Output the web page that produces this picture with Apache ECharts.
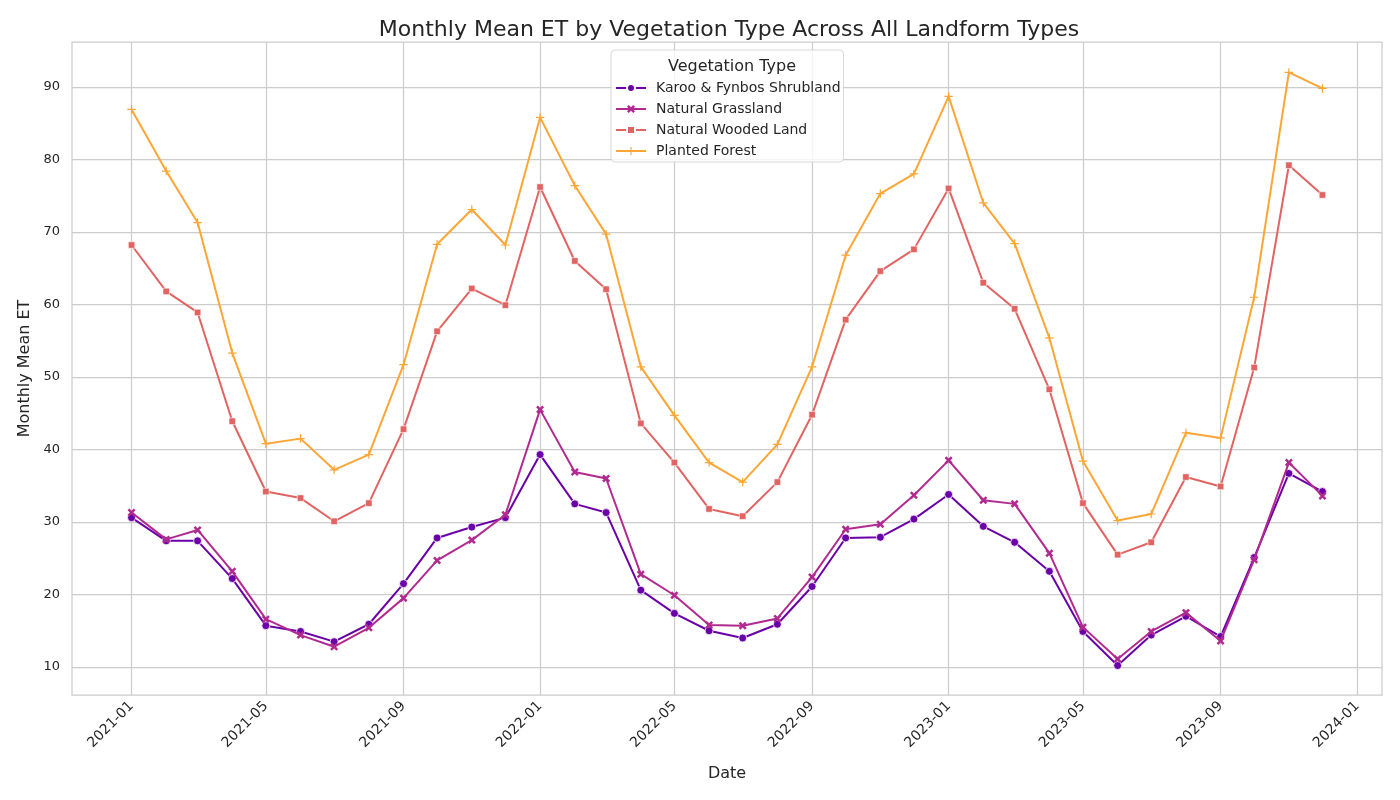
<!DOCTYPE html>
<html>
<head>
<meta charset="utf-8">
<script src="https://cdn.jsdelivr.net/npm/echarts@6/dist/echarts.min.js"></script>
<style>
  html, body { margin: 0; padding: 0; background: #fff; }
  #chart { width: 1400px; height: 800px; }
</style>
</head>
<body>
<div id="chart"></div>
<script>
const months = [
  '2021-01', '2021-02', '2021-03', '2021-04', '2021-05', '2021-06',
  '2021-07', '2021-08', '2021-09', '2021-10', '2021-11', '2021-12',
  '2022-01', '2022-02', '2022-03', '2022-04', '2022-05', '2022-06',
  '2022-07', '2022-08', '2022-09', '2022-10', '2022-11', '2022-12',
  '2023-01', '2023-02', '2023-03', '2023-04', '2023-05', '2023-06',
  '2023-07', '2023-08', '2023-09', '2023-10', '2023-11', '2023-12'
];

const karooFynbos = [
  30.6, 27.4, 27.4, 22.2, 15.7, 14.9, 13.5, 15.9, 21.5, 27.8, 29.3, 30.6,
  39.3, 32.5, 31.3, 20.6, 17.4, 15.0, 14.0, 15.9, 21.1, 27.8, 27.9, 30.4,
  33.8, 29.4, 27.2, 23.2, 14.9, 10.2, 14.4, 17.0, 14.2, 25.1, 36.7, 34.2
];
const naturalGrassland = [
  31.3, 27.6, 28.9, 23.2, 16.6, 14.4, 12.8, 15.4, 19.5, 24.7, 27.5, 31.0,
  45.5, 36.9, 36.0, 22.8, 19.9, 15.8, 15.7, 16.7, 22.4, 29.0, 29.7, 33.7,
  38.5, 33.0, 32.5, 25.7, 15.5, 11.1, 14.9, 17.5, 13.6, 24.8, 38.2, 33.6
];
const naturalWooded = [
  68.2, 61.8, 58.9, 43.9, 34.2, 33.3, 30.1, 32.6, 42.8, 56.3, 62.2, 59.9,
  76.2, 66.0, 62.1, 43.6, 38.2, 31.8, 30.8, 35.5, 44.8, 57.9, 64.6, 67.6,
  76.0, 63.0, 59.4, 48.3, 32.6, 25.5, 27.2, 36.2, 34.9, 51.3, 79.2, 75.1
];
const plantedForest = [
  86.9, 78.4, 71.3, 53.3, 40.8, 41.5, 37.2, 39.3, 51.7, 68.3, 73.1, 68.2,
  85.8, 76.4, 69.7, 51.4, 44.7, 38.2, 35.5, 40.7, 51.4, 66.8, 75.3, 78.0,
  88.7, 74.0, 68.4, 55.4, 38.4, 30.2, 31.1, 42.3, 41.6, 61.0, 92.0, 89.8
];

const xTickLabels = ['2021-01', '2021-05', '2021-09', '2022-01', '2022-05', '2022-09',
  '2023-01', '2023-05', '2023-09', '2024-01'];
const yTickLabels = [10, 20, 30, 40, 50, 60, 70, 80, 90];

const seriesNames = ['Karoo & Fynbos Shrubland', 'Natural Grassland', 'Natural Wooded Land', 'Planted Forest'];
const seriesValues = [karooFynbos, naturalGrassland, naturalWooded, plantedForest];
const colors = ['#6a00a8', '#b12a90', '#e16462', '#fca636'];

const FONT = 'DejaVu Sans';
const TEXT = '#262626';
const GRID = '#cccccc';

function toTime(s) {
  const [y, m] = s.split('-').map(Number);
  return Date.UTC(y, m - 1, 1);
}

function fmtMonth(v) {
  const d = new Date(v);
  return d.getUTCFullYear() + '-' + String(d.getUTCMonth() + 1).padStart(2, '0');
}

const times = months.map(toTime);
const xTicks = xTickLabels.map(toTime);
// matplotlib-style 5% margin on each side of the data
const pad = (times[times.length - 1] - times[0]) * 0.05;

const X_PATH = 'path://M0,2.2L2.2,0L5,2.8L7.8,0L10,2.2L7.2,5L10,7.8L7.8,10L5,7.2L2.2,10L0,7.8L2.8,5Z';
const PLUS_PATH = 'path://M4.3,0h1.4v4.3h4.3v1.4h-4.3v4.3h-1.4v-4.3h-4.3v-1.4h4.3z';

const symbols = [
  { symbol: 'circle', symbolSize: 8, borderColor: '#fff', borderWidth: 0.8 },
  { symbol: X_PATH, symbolSize: 8, borderWidth: 0 },
  { symbol: 'rect', symbolSize: 6.5, borderColor: '#fff', borderWidth: 0.6 },
  { symbol: PLUS_PATH, symbolSize: 8.5, borderWidth: 0 }
];

const series = seriesNames.map((name, i) => ({
  name: name,
  type: 'line',
  data: times.map((t, j) => [t, seriesValues[i][j]]),
  symbol: symbols[i].symbol,
  symbolSize: symbols[i].symbolSize,
  showSymbol: true,
  lineStyle: { color: colors[i], width: 2 },
  itemStyle: {
    color: colors[i],
    borderColor: symbols[i].borderColor || colors[i],
    borderWidth: symbols[i].borderWidth
  },
  emphasis: { disabled: true },
  z: 2 + i
}));

const option = {
  backgroundColor: '#ffffff',
  animation: false,
  color: colors,
  textStyle: { fontFamily: FONT },
  title: [
    {
      text: 'Monthly Mean ET by Vegetation Type Across All Landform Types',
      left: 724,
      top: 14,
      textAlign: 'center',
      textStyle: { fontFamily: FONT, fontSize: 22, fontWeight: 'normal', color: TEXT }
    },
    {
      text: 'Vegetation Type',
      left: 727,
      top: 54,
      textAlign: 'center',
      textStyle: { fontFamily: FONT, fontSize: 16, fontWeight: 'normal', color: TEXT },
      z: 12
    }
  ],
  legend: {
    data: seriesNames,
    orient: 'vertical',
    left: 611,
    top: 50,
    padding: [31, 3, 4, 4],
    itemWidth: 30,
    itemHeight: 10,
    itemGap: 7,
    backgroundColor: 'rgba(255,255,255,0.8)',
    borderColor: '#d9d9d9',
    borderWidth: 1,
    borderRadius: 4,
    textStyle: { fontFamily: FONT, fontSize: 14, color: TEXT, padding: [0, 0, 0, 5] },
    z: 10
  },
  grid: {
    left: 72,
    right: 18,
    top: 42,
    bottom: 105,
    show: true,
    borderColor: GRID,
    borderWidth: 1.25,
    containLabel: false
  },
  xAxis: {
    type: 'value',
    min: times[0] - pad,
    max: times[times.length - 1] + pad,
    name: 'Date',
    nameLocation: 'middle',
    nameGap: 71,
    nameTextStyle: { fontFamily: FONT, fontSize: 16, color: TEXT },
    axisLine: { show: false },
    axisTick: { show: false, customValues: xTicks },
    splitLine: { show: true, lineStyle: { color: GRID, width: 1.25 } },
    axisLabel: {
      customValues: xTicks,
      rotate: 45,
      margin: 9,
      fontFamily: FONT,
      fontSize: 14,
      color: TEXT,
      formatter: fmtMonth
    }
  },
  yAxis: {
    type: 'value',
    min: 6.14,
    max: 96.2,
    name: 'Monthly Mean ET',
    nameLocation: 'middle',
    nameGap: 37,
    nameTextStyle: { fontFamily: FONT, fontSize: 16, color: TEXT },
    axisLine: { show: false },
    axisTick: { show: false, customValues: yTickLabels },
    splitLine: { show: true, lineStyle: { color: GRID, width: 1.25 } },
    axisLabel: {
      customValues: yTickLabels,
      margin: 12,
      fontFamily: FONT,
      fontSize: 13,
      color: TEXT
    }
  },
  series: series
};

const chart = echarts.init(document.getElementById('chart'));
chart.setOption(option);
</script>
</body>
</html>
